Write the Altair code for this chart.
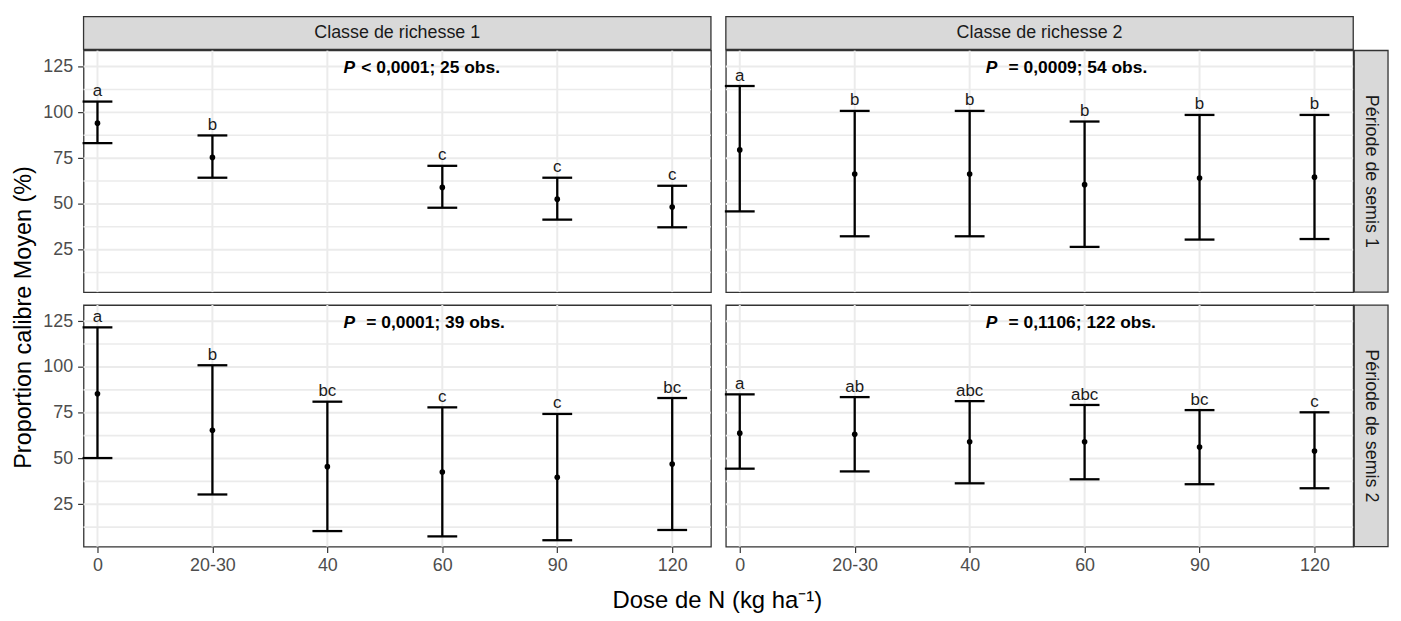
import altair as alt
import pandas as pd

FONT = "Liberation Sans"

# ---------------- data ----------------
doses = ["0", "20-30", "40", "60", "90", "120"]
dose_pos = [1, 2, 3, 4, 5, 6]

col_labels = ["Classe de richesse 1", "Classe de richesse 2"]
row_labels = ["Période de semis 1", "Période de semis 2"]

# Période 1 / Richesse 1
mean_11 = [94.1, 75.4, None, 59.0, 52.6, 48.3]
lo_11 = [83.2, 64.3, None, 47.9, 41.4, 37.2]
hi_11 = [105.9, 87.4, None, 70.8, 64.3, 59.9]
let_11 = ["a", "b", None, "c", "c", "c"]

# Période 1 / Richesse 2
mean_12 = [79.5, 66.3, 66.3, 60.5, 64.1, 64.6]
lo_12 = [45.9, 32.3, 32.3, 26.5, 30.5, 30.8]
hi_12 = [114.4, 100.8, 100.8, 95.0, 98.6, 98.6]
let_12 = ["a", "b", "b", "b", "b", "b"]

# Période 2 / Richesse 1
mean_21 = [85.3, 65.4, 45.5, 42.6, 39.7, 46.9]
lo_21 = [50.2, 30.3, 10.3, 7.4, 5.3, 10.9]
hi_21 = [121.6, 100.9, 81.0, 77.9, 74.3, 83.0]
let_21 = ["a", "b", "bc", "c", "c", "bc"]

# Période 2 / Richesse 2
mean_22 = [63.8, 63.2, 59.1, 59.1, 56.2, 54.0]
lo_22 = [44.4, 42.9, 36.4, 38.6, 35.9, 33.7]
hi_22 = [85.0, 83.5, 81.3, 79.2, 76.4, 75.2]
let_22 = ["a", "ab", "abc", "abc", "bc", "c"]

annot_rest = ["< 0,0001; 25 obs.", "= 0,0009; 54 obs.", "= 0,0001; 39 obs.", "= 0,1106; 122 obs."]
annot_x = 3.14
annot_y = 124.0

y_major = [25, 50, 75, 100, 125]
y_minor = [12.5, 37.5, 62.5, 87.5, 112.5]

x_domain = [0.879, 6.337]
y_domain = [1.8, 133.8]

W, H = 631, 243
STRIP = 34

label_expr = "[" + ",".join("'" + d + "'" for d in doses) + "][round(datum.value)-1]"


def make_panel(r, c, mean, lo, hi, letters, rest, rest_dx):
    df = pd.DataFrame({"xi": dose_pos, "dose": doses, "mean": mean,
                       "lo": lo, "hi": hi, "letter": letters}).dropna()
    sx = alt.Scale(domain=x_domain, nice=False, zero=False)
    sy = alt.Scale(domain=y_domain, nice=False, zero=False)

    if r == 1:
        xkw = dict(values=dose_pos, labelExpr=label_expr, grid=False, domain=False,
                   tickSize=6, tickColor="#333333", tickWidth=1.2,
                   labelColor="#4D4D4D", labelFont=FONT, labelFontSize=18, labelPadding=4)
        if c == 0:
            xkw.update(title="Dose de N (kg ha⁻¹)", titleX=637, titleY=61,
                       titleBaseline="alphabetic", titleFont=FONT, titleFontSize=24,
                       titleFontWeight="normal", titleColor="black")
        else:
            xkw.update(title=None)
        xaxis = alt.Axis(**xkw)
    else:
        xaxis = None

    if c == 0:
        ykw = dict(values=y_major, grid=False, domain=False, tickSize=6,
                   tickColor="#333333", tickWidth=1.2, labelColor="#4D4D4D",
                   labelFont=FONT, labelFontSize=18, labelPadding=5)
        if r == 0:
            ykw.update(title="Proportion calibre Moyen (%)", titleX=-53, titleY=268,
                       titleBaseline="alphabetic", titleFont=FONT, titleFontSize=23.5,
                       titleFontWeight="normal", titleColor="black", titleAngle=270)
        else:
            ykw.update(title=None)
        yaxis = alt.Axis(**ykw)
    else:
        yaxis = None

    def X(f):
        return alt.X(f + ":Q", scale=sx, axis=xaxis)

    def Y(f):
        return alt.Y(f + ":Q", scale=sy, axis=yaxis)

    vgrid = alt.Chart(pd.DataFrame({"gx": dose_pos})).mark_rule(
        color="#EBEBEB", strokeWidth=2).encode(x=X("gx"))
    hmin = alt.Chart(pd.DataFrame({"gy": y_minor})).mark_rule(
        color="#EBEBEB", strokeWidth=1.7).encode(y=Y("gy"))
    hmaj = alt.Chart(pd.DataFrame({"gy": y_major})).mark_rule(
        color="#EBEBEB", strokeWidth=2).encode(y=Y("gy"))

    base = alt.Chart(df)
    bar = base.mark_rule(color="black", strokeWidth=2.3).encode(x=X("xi"), y=Y("lo"), y2="hi:Q")
    cap_hi = base.mark_tick(color="black", orient="horizontal", size=30, thickness=2.3,
                            opacity=1).encode(x=X("xi"), y=Y("hi"))
    cap_lo = base.mark_tick(color="black", orient="horizontal", size=30, thickness=2.3,
                            opacity=1).encode(x=X("xi"), y=Y("lo"))
    pts = base.mark_circle(color="black", size=32, opacity=1).encode(x=X("xi"), y=Y("mean"))
    lets = base.mark_text(font=FONT, fontSize=17, color="#1A1A1A", baseline="alphabetic",
                          dy=-5.5).encode(x=X("xi"), y=Y("hi"), text="letter:N")

    ann = alt.Chart(pd.DataFrame({"ax": [annot_x], "ay": [annot_y],
                                  "p": ["P"], "rest": [rest]}))
    ann_p = ann.mark_text(font=FONT, fontSize=17.5, fontWeight="bold", fontStyle="italic",
                          align="left", baseline="middle", color="black").encode(
        x=X("ax"), y=Y("ay"), text="p:N")
    ann_r = ann.mark_text(font=FONT, fontSize=17.5, fontWeight="bold", align="left",
                          baseline="middle", dx=rest_dx, color="black").encode(
        x=X("ax"), y=Y("ay"), text="rest:N")

    layers = [vgrid, hmin, hmaj, bar, cap_hi, cap_lo, pts, lets, ann_p, ann_r]

    if r == 0:
        sd = alt.Chart(pd.DataFrame({"lab": [col_labels[c]]}))
        layers.append(sd.mark_rect(fill="#D9D9D9", stroke="#333333", strokeWidth=1.3).encode(
            x=alt.value(0), x2=alt.value(W), y=alt.value(-STRIP), y2=alt.value(-1)))
        layers.append(sd.mark_text(font=FONT, fontSize=18, color="#1A1A1A",
                                   baseline="middle").encode(
            x=alt.value(W / 2), y=alt.value(-STRIP / 2 - 0.5), text="lab:N"))
    if c == 1:
        sd = alt.Chart(pd.DataFrame({"lab": [row_labels[r]]}))
        layers.append(sd.mark_rect(fill="#D9D9D9", stroke="#333333", strokeWidth=1.3).encode(
            x=alt.value(W + 1), x2=alt.value(W + 1 + STRIP), y=alt.value(0), y2=alt.value(H)))
        layers.append(sd.mark_text(font=FONT, fontSize=18, color="#1A1A1A", angle=90,
                                   baseline="middle").encode(
            x=alt.value(W + 1 + STRIP / 2), y=alt.value(H / 2), text="lab:N"))

    return alt.layer(*layers).properties(width=W, height=H)


tl = make_panel(0, 0, mean_11, lo_11, hi_11, let_11, annot_rest[0], 18)
tr = make_panel(0, 1, mean_12, lo_12, hi_12, let_12, annot_rest[1], 23)
bl = make_panel(1, 0, mean_21, lo_21, hi_21, let_21, annot_rest[2], 23)
br = make_panel(1, 1, mean_22, lo_22, hi_22, let_22, annot_rest[3], 23)

chart = alt.concat(tl, tr, bl, br, columns=2, spacing={"row": 13, "column": 15},
                   bounds="flush").properties(
    padding={"left": 3, "top": 5, "right": 3, "bottom": 0},
    background="white",
).configure_view(stroke="#333333", strokeWidth=1.3)

chart.save("out.html", embed_options={"renderer": "svg", "actions": False})
